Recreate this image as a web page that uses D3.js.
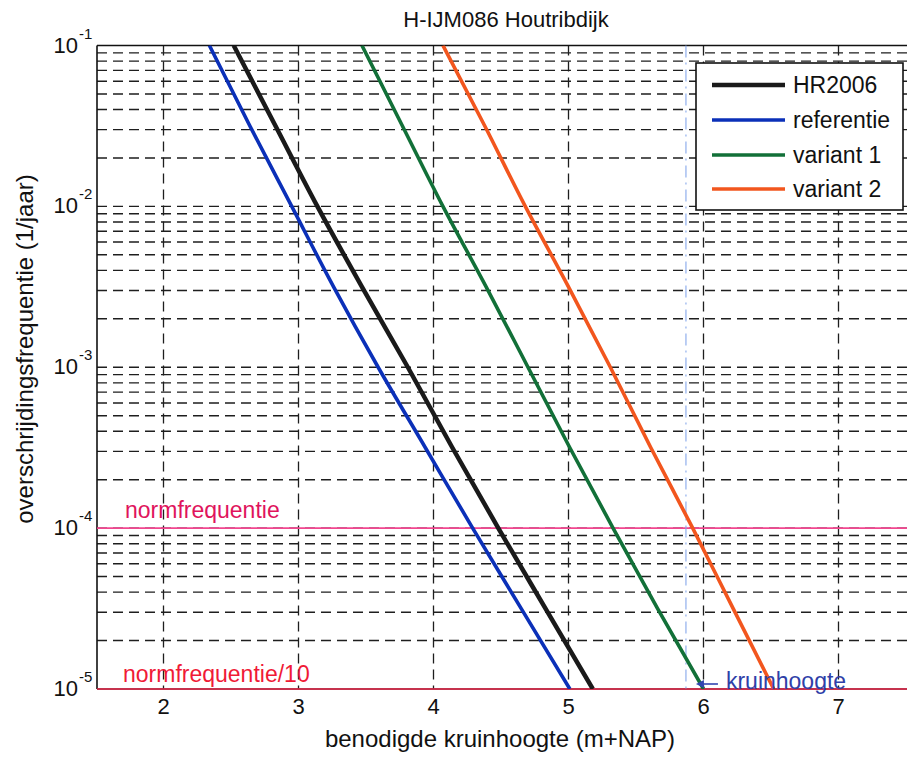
<!DOCTYPE html>
<html>
<head>
<meta charset="utf-8">
<script src="https://cdn.jsdelivr.net/npm/d3@7"></script>
<style>
  html, body { margin: 0; padding: 0; background: #fff; }
  svg { display: block; }
  text { font-family: "Liberation Sans", Arial, Helvetica, sans-serif; }
</style>
</head>
<body>
<div id="chart"></div>
<script>
// ---------------- data ----------------
const title = "H-IJM086 Houtribdijk";
const xLabel = "benodigde kruinhoogte (m+NAP)";
const yLabel = "overschrijdingsfrequentie (1/jaar)";
const frequencies = [1e-1, 3.16e-2, 1e-2, 3.16e-3, 1e-3, 3.16e-4, 1e-4, 3.16e-5, 1e-5];
const seriesNames = ["HR2006", "referentie", "variant 1", "variant 2"];
const hr2006     = [2.52, 2.83, 3.14, 3.47, 3.81, 4.14, 4.48, 4.83, 5.18];
const referentie = [2.34, 2.64, 2.95, 3.26, 3.59, 3.94, 4.29, 4.65, 5.01];
const variant1   = [3.47, 3.77, 4.07, 4.39, 4.70, 5.01, 5.33, 5.66, 6.00];
const variant2   = [4.07, 4.38, 4.68, 5.00, 5.31, 5.61, 5.92, 6.22, 6.52];
const seriesColors = ["#1a1a1a", "#0b30b8", "#127038", "#f2561e"];
const xTicks = [2, 3, 4, 5, 6, 7];
const yDecades = [1e-1, 1e-2, 1e-3, 1e-4, 1e-5];
const yDecadeExps = ["-1", "-2", "-3", "-4", "-5"];
const normFreq = 1e-4;
const normFreq10 = 1e-5;
const normLabel = "normfrequentie";
const norm10Label = "normfrequentie/10";
const kruinhoogte = 5.87;
const kruinLabel = "kruinhoogte";

// ---------------- layout ----------------
const W = 907, H = 761;
const pL = 97, pR = 907, pT = 45.5, pB = 689;

const svg = d3.select("#chart").append("svg")
  .attr("width", W).attr("height", H);

const x = d3.scaleLinear().domain([1.5, 7.5]).range([pL - 1, pL - 1 + 810]);
const y = d3.scaleLog().domain([1e-5, 1e-1]).range([pB, pT]);

svg.append("defs").append("clipPath").attr("id", "clip")
  .append("rect").attr("x", pL).attr("y", pT).attr("width", pR - pL).attr("height", pB - pT);

const plot = svg.append("g");

// grid
const minorVals = [];
for (let e = -5; e < -1; e++) {
  for (let m = 1; m <= 9; m++) {
    const v = m * Math.pow(10, e);
    if (v > 1e-5 * 1.0001 && v < 1e-1 * 0.9999) minorVals.push(v);
  }
}
plot.append("g").selectAll("line").data(minorVals).join("line")
  .attr("x1", pL).attr("x2", pR)
  .attr("y1", d => y(d)).attr("y2", d => y(d))
  .attr("stroke", "#1e1e1e").attr("stroke-width", 1.4)
  .attr("stroke-dasharray", "10,6");

plot.append("g").selectAll("line").data(xTicks).join("line")
  .attr("x1", d => x(d)).attr("x2", d => x(d))
  .attr("y1", pT).attr("y2", pB)
  .attr("stroke", "#1e1e1e").attr("stroke-width", 1.3)
  .attr("stroke-dasharray", "10,6");

// axes box (left, top, bottom)
plot.append("line").attr("x1", pL).attr("x2", pL).attr("y1", pT).attr("y2", pB)
  .attr("stroke", "#111").attr("stroke-width", 1.6);
plot.append("line").attr("x1", pL).attr("x2", pR).attr("y1", pT).attr("y2", pT)
  .attr("stroke", "#111").attr("stroke-width", 1.6);
plot.append("line").attr("x1", pL).attr("x2", pR).attr("y1", pB).attr("y2", pB)
  .attr("stroke", "#111").attr("stroke-width", 1.5);

// norm lines
plot.append("line").attr("x1", pL).attr("x2", pR)
  .attr("y1", y(normFreq)).attr("y2", y(normFreq))
  .attr("stroke", "#f2468f").attr("stroke-width", 1.6);
plot.append("line").attr("x1", pL).attr("x2", pR)
  .attr("y1", y(normFreq10)).attr("y2", y(normFreq10))
  .attr("stroke", "#ef2a4e").attr("stroke-width", 1.6);

// kruinhoogte vertical
plot.append("line")
  .attr("x1", x(kruinhoogte)).attr("x2", x(kruinhoogte))
  .attr("y1", pT).attr("y2", pB)
  .attr("stroke", "#86a8ec").attr("stroke-width", 1.1)
  .attr("stroke-dasharray", "12,5,2,5");

// series
const allSeries = [hr2006, referentie, variant1, variant2];
const lineGen = d3.line().x(d => x(d[0])).y(d => y(d[1])).curve(d3.curveMonotoneY);
const drawOrder = [1, 0, 2, 3];
const linesG = plot.append("g").attr("clip-path", "url(#clip)");
drawOrder.forEach(i => {
  const pts = allSeries[i].map((v, k) => [v, frequencies[k]]);
  linesG.append("path").datum(pts)
    .attr("d", lineGen)
    .attr("fill", "none")
    .attr("stroke", seriesColors[i])
    .attr("stroke-width", i === 0 ? 4.5 : 3.6)
    .attr("stroke-linejoin", "round");
});

// norm texts
svg.append("text").attr("x", 125).attr("y", 518)
  .attr("fill", "#e0145c").attr("font-size", 23).text(normLabel);
svg.append("text").attr("x", 123).attr("y", 682)
  .attr("fill", "#f01a36").attr("font-size", 23).text(norm10Label);

// kruinhoogte arrow + label
const ay = 684;
const ax0 = x(kruinhoogte) + 10;
svg.append("line").attr("x1", ax0 + 3).attr("x2", ax0 + 22).attr("y1", ay).attr("y2", ay)
  .attr("stroke", "#3146b0").attr("stroke-width", 1.6);
svg.append("path")
  .attr("d", `M${ax0},${ay} L${ax0 + 8},${ay - 4} L${ax0 + 8},${ay + 4} Z`)
  .attr("fill", "#3146b0");
svg.append("text").attr("x", ax0 + 30).attr("y", 689)
  .attr("fill", "#2f3fa8").attr("font-size", 23).text(kruinLabel);

// x tick labels
svg.append("g").selectAll("text").data(xTicks).join("text")
  .attr("x", d => x(d)).attr("y", 714)
  .attr("text-anchor", "middle").attr("font-size", 22).attr("fill", "#111")
  .text(d => d);

// y tick labels
const yl = svg.append("g");
yDecades.forEach((d, i) => {
  yl.append("text").attr("x", 78).attr("y", y(d) + 7)
    .attr("text-anchor", "end").attr("font-size", 22).attr("fill", "#111")
    .text("10");
  yl.append("text").attr("x", 79).attr("y", y(d) - 7)
    .attr("font-size", 15).attr("fill", "#111").text(yDecadeExps[i]);
});

// axis labels & title
svg.append("text").attr("x", 500).attr("y", 747)
  .attr("text-anchor", "middle").attr("font-size", 24).attr("fill", "#111").text(xLabel);
svg.append("text")
  .attr("transform", "translate(33,349) rotate(-90)")
  .attr("text-anchor", "middle").attr("font-size", 24).attr("fill", "#111").text(yLabel);
svg.append("text").attr("x", 506).attr("y", 27)
  .attr("text-anchor", "middle").attr("font-size", 22).attr("fill", "#111").text(title);

// legend
const lg = svg.append("g");
lg.append("rect").attr("x", 696).attr("y", 63).attr("width", 207).attr("height", 147)
  .attr("fill", "#fff").attr("stroke", "#111").attr("stroke-width", 1.6);
const legY = [85, 120, 155, 189];
seriesNames.forEach((n, i) => {
  lg.append("line").attr("x1", 712).attr("x2", 785)
    .attr("y1", legY[i]).attr("y2", legY[i])
    .attr("stroke", seriesColors[i]).attr("stroke-width", i === 0 ? 4.5 : 3.6);
  lg.append("text").attr("x", 793).attr("y", legY[i] + 8)
    .attr("font-size", 23).attr("fill", "#111").text(n);
});
</script>
</body>
</html>
